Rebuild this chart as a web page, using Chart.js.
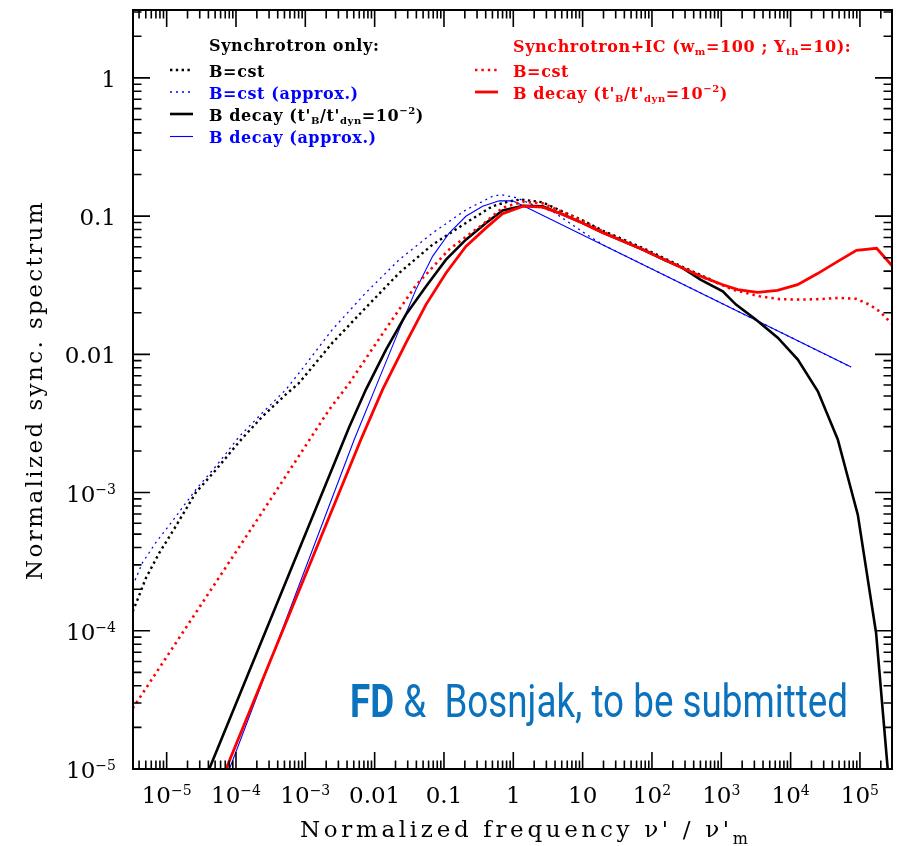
<!DOCTYPE html>
<html>
<head>
<meta charset="utf-8">
<script src="https://cdn.jsdelivr.net/npm/chart.js@4.4.0/dist/chart.umd.min.js"></script>
<style>
  html, body { margin: 0; padding: 0; background: #fff; }
  canvas { display: block; }
</style>
</head>
<body>
<canvas id="spec" width="899" height="846"></canvas>
<script>
// ===== Data (x = nu'/nu'_m, y = normalized spectrum) =====
// Synchrotron only, B = cst (black dotted)
const syncCstX = [3.24e-6, 3.80e-6, 5.01e-6, 7.76e-6, 1.35e-5, 2.63e-5, 5.13e-5, 1.12e-4, 2.40e-4, 5.25e-4, 8.13e-4, 2.45e-3, 7.41e-3, 2.26e-2, 6.85e-2, 0.207, 0.501, 0.871, 1.29, 2.63, 5.13, 10, 19.5, 38.0, 73.5, 143, 275, 537, 794];
const syncCstY = [1.38e-4, 1.68e-4, 2.40e-4, 3.63e-4, 5.69e-4, 1.00e-3, 1.46e-3, 2.34e-3, 3.55e-3, 5.13e-3, 6.21e-3, 1.21e-2, 2.17e-2, 3.88e-2, 6.22e-2, 8.93e-2, 0.118, 0.128, 0.132, 0.126, 0.108, 9.33e-2, 7.85e-2, 6.80e-2, 5.88e-2, 5.02e-2, 4.30e-2, 3.70e-2, 3.38e-2];

// Synchrotron only, B = cst, approximation (blue dotted)
const cstApproxX = [3.24e-6, 4.47e-6, 6.92e-6, 1.20e-5, 2.63e-5, 5.13e-5, 1.12e-4, 2.40e-4, 5.25e-4, 8.13e-4, 2.45e-3, 7.41e-3, 2.26e-2, 6.85e-2, 0.207, 0.501, 0.661, 1.10, 1.91, 3.72, 11.2, 20.0, 7.46e4];
const cstApproxY = [2.12e-4, 3.10e-4, 4.32e-4, 6.18e-4, 1.05e-3, 1.55e-3, 2.55e-3, 3.77e-3, 5.56e-3, 7.33e-3, 1.51e-2, 2.78e-2, 4.84e-2, 7.55e-2, 0.111, 0.139, 0.143, 0.136, 0.121, 0.108, 7.41e-2, 6.17e-2, 8.09e-3];

// Synchrotron only, B decay (black solid)
const decaySyncX = [3.16e-5, 4.27e-3, 7.48e-3, 1.46e-2, 2.83e-2, 5.50e-2, 0.107, 0.207, 0.404, 0.701, 1.39, 2.65, 5.15, 10, 19.5, 37.8, 73.5, 143, 275, 501, 1.05e3, 1.63e3, 3.18e3, 6.52e3, 1.27e4, 2.47e4, 4.79e4, 9.31e4, 1.71e5, 2.52e5, 2.82e5];
const decaySyncY = [7.24e-6, 2.96e-3, 5.56e-3, 1.08e-2, 1.94e-2, 3.10e-2, 4.84e-2, 6.76e-2, 8.93e-2, 0.110, 0.119, 0.118, 0.103, 8.91e-2, 7.59e-2, 6.61e-2, 5.73e-2, 4.90e-2, 4.22e-2, 3.47e-2, 2.86e-2, 2.29e-2, 1.78e-2, 1.32e-2, 9.16e-3, 5.40e-3, 2.42e-3, 6.92e-4, 9.64e-5, 9.89e-6, 5.13e-6];

// Synchrotron only, B decay, approximation (blue solid)
const decayApproxX = [6.31e-5, 5.08e-3, 1.05e-2, 2.26e-2, 3.94e-2, 6.85e-2, 0.119, 0.207, 0.361, 0.628, 0.977, 1.39, 7.46e4];
const decayApproxY = [7.24e-6, 2.42e-3, 5.89e-3, 1.51e-2, 2.94e-2, 5.12e-2, 7.55e-2, 9.98e-2, 0.118, 0.129, 0.129, 0.119, 8.09e-3];

// Synchrotron + IC, B = cst (red dotted)
const cstICX = [3.24e-6, 2.63e-5, 2.40e-4, 2.21e-3, 4.30e-3, 1.30e-2, 3.94e-2, 0.119, 0.361, 0.701, 1.36, 2.65, 5.15, 10, 19.5, 37.8, 73.5, 143, 275, 537, 1.05e3, 1.46e3, 3.55e3, 6.92e3, 1.34e4, 2.63e4, 5.01e4, 8.81e4, 1.37e5, 1.91e5, 2.67e5, 2.95e5];
const cstICY = [2.75e-5, 1.35e-4, 7.24e-4, 3.98e-3, 6.17e-3, 1.41e-2, 3.16e-2, 5.75e-2, 8.71e-2, 0.115, 0.127, 0.124, 0.107, 9.23e-2, 7.76e-2, 6.64e-2, 5.73e-2, 4.90e-2, 4.22e-2, 3.63e-2, 3.16e-2, 2.94e-2, 2.63e-2, 2.51e-2, 2.49e-2, 2.51e-2, 2.56e-2, 2.52e-2, 2.29e-2, 2.05e-2, 1.73e-2, 1.66e-2];

// Synchrotron + IC, B decay (red solid)
const decayICX = [5.62e-5, 6.34e-3, 1.30e-2, 2.83e-2, 5.50e-2, 0.107, 0.207, 0.404, 0.701, 1.39, 2.65, 5.15, 10, 19.5, 37.8, 73.5, 143, 275, 537, 1.05e3, 1.73e3, 3.35e3, 6.46e3, 1.26e4, 2.45e4, 4.79e4, 8.91e4, 1.74e5, 2.95e5];
const decayICY = [7.41e-6, 2.42e-3, 5.56e-3, 1.21e-2, 2.29e-2, 3.88e-2, 6.04e-2, 8.22e-2, 0.104, 0.118, 0.116, 0.103, 8.91e-2, 7.59e-2, 6.61e-2, 5.73e-2, 4.90e-2, 4.22e-2, 3.63e-2, 3.19e-2, 2.94e-2, 2.81e-2, 2.90e-2, 3.19e-2, 3.84e-2, 4.71e-2, 5.66e-2, 5.85e-2, 4.34e-2];

// ===== Tick labels =====
const xTickVals = [1e-5, 1e-4, 1e-3, 0.01, 0.1, 1, 10, 100, 1e3, 1e4, 1e5];
const xTickBase = ["10", "10", "10", "0.01", "0.1", "1", "10", "10", "10", "10", "10"];
const xTickExp = ["\u22125", "\u22124", "\u22123", "", "", "", "", "2", "3", "4", "5"];
const yTickVals = [1, 0.1, 0.01, 1e-3, 1e-4, 1e-5];
const yTickBase = ["1", "0.1", "0.01", "10", "10", "10"];
const yTickExp = ["", "", "", "\u22123", "\u22124", "\u22125"];

// ===== Styles =====
const BLACK = "#000000", BLUE = "#0000ff", RED = "#ff0000";
const styles = {
  syncCst:     { color: BLACK, width: 2.4, dash: [2.4, 3.4], order: 4 },
  cstApprox:   { color: BLUE,  width: 1.3, dash: [2, 4],     order: 5 },
  decaySync:   { color: BLACK, width: 2.6, dash: [],         order: 2 },
  decayApprox: { color: BLUE,  width: 1.1, dash: [],         order: 3 },
  cstIC:       { color: RED,   width: 2.6, dash: [2.4, 4],   order: 1 },
  decayIC:     { color: RED,   width: 2.8, dash: [],         order: 0 },
};

const SERIF = "'DejaVu Serif', serif";
const LEG = "bold 16px " + SERIF;
const LEG_SM = "bold 10px " + SERIF;

function pairs(xs, ys) {
  return xs.map((x, i) => ({ x, y: ys[i] }));
}

function series(key, xs, ys) {
  const s = styles[key];
  return {
    label: key,
    data: pairs(xs, ys),
    borderColor: s.color,
    borderWidth: s.width,
    borderDash: s.dash,
    order: s.order,
    pointRadius: 0,
    tension: 0,
    fill: false,
    clip: 0,
  };
}

function logTicks(min, max) {
  const out = [];
  for (let d = Math.floor(Math.log10(min)); d <= Math.ceil(Math.log10(max)); d++) {
    for (let m = 1; m <= 9; m++) {
      const v = Number(m + "e" + d);
      if (v >= min && v <= max) out.push({ v, major: m === 1 });
    }
  }
  return out;
}

// draw a run of text pieces (normal / sub / sup) one after the other
function richText(ctx, parts, x, y, align) {
  let w = 0;
  parts.forEach((p) => { ctx.font = p.font; p.w = ctx.measureText(p.t).width; w += p.w; });
  let cx = align === "center" ? x - w / 2 : align === "right" ? x - w : x;
  parts.forEach((p) => { ctx.font = p.font; ctx.fillText(p.t, cx, y + (p.dy || 0)); cx += p.w; });
}

const n = (t) => ({ t, font: LEG });
const sub = (t) => ({ t, font: LEG_SM, dy: 3 });
const sup = (t) => ({ t, font: LEG_SM, dy: -7 });
const decayText = () => [n("B decay (t'"), sub("B"), n("/t'"), sub("dyn"), n("=10"), sup("\u22122"), n(")")];

// ===== Legend entries =====
const legendLeft = [
  { y: 51, color: BLACK, parts: [n("Synchrotron only:")] },
  { y: 76.5, color: BLACK, key: "syncCst", parts: [n("B=cst")] },
  { y: 98.5, color: BLUE, key: "cstApprox", parts: [n("B=cst (approx.)")] },
  { y: 120.5, color: BLACK, key: "decaySync", parts: decayText() },
  { y: 143, color: BLUE, key: "decayApprox", parts: [n("B decay (approx.)")] },
];
const legendRight = [
  { y: 51.5, color: RED, parts: [n("Synchrotron+IC (w"), sub("m"), n("=100 ; Y"), sub("th"), n("=10):")] },
  { y: 76.5, color: RED, key: "cstIC", parts: [n("B=cst")] },
  { y: 98.5, color: RED, key: "decayIC", parts: decayText() },
];

function drawLegend(ctx, rows, textX, lineX0, lineX1) {
  rows.forEach((r) => {
    if (r.key) {
      const s = styles[r.key];
      ctx.save();
      ctx.strokeStyle = s.color;
      ctx.lineWidth = s.width;
      ctx.setLineDash(s.dash);
      ctx.beginPath();
      ctx.moveTo(lineX0, r.y - 6.5);
      ctx.lineTo(lineX1, r.y - 6.5);
      ctx.stroke();
      ctx.restore();
    }
    ctx.fillStyle = r.color;
    ctx.letterSpacing = "0.6px";
    richText(ctx, r.parts, textX, r.y, "left");
    ctx.letterSpacing = "0px";
  });
}

// ===== Frame, inward ticks, labels, titles, legend, note =====
const figureFrame = {
  id: "figureFrame",
  afterDatasetsDraw(chart) {
    const { ctx, chartArea: a, scales: { x, y } } = chart;
    ctx.save();
    ctx.textAlign = "left";
    ctx.textBaseline = "alphabetic";

    // ticks on all four sides
    ctx.strokeStyle = "#000";
    ctx.lineWidth = 1.6;
    ctx.beginPath();
    logTicks(x.min, x.max).forEach((t) => {
      const p = x.getPixelForValue(t.v);
      const len = t.major ? 17 : 8.5;
      ctx.moveTo(p, a.bottom); ctx.lineTo(p, a.bottom - len);
      ctx.moveTo(p, a.top); ctx.lineTo(p, a.top + len);
    });
    logTicks(y.min, y.max).forEach((t) => {
      const p = y.getPixelForValue(t.v);
      const len = t.major ? 17 : 8.5;
      ctx.moveTo(a.left, p); ctx.lineTo(a.left + len, p);
      ctx.moveTo(a.right, p); ctx.lineTo(a.right - len, p);
    });
    ctx.stroke();

    ctx.lineWidth = 2;
    ctx.strokeRect(a.left, a.top, a.right - a.left, a.bottom - a.top);

    // tick labels
    const big = "23px " + SERIF, small = "14px " + SERIF;
    ctx.fillStyle = "#000";
    xTickVals.forEach((v, i) => {
      const parts = [{ t: xTickBase[i], font: big }];
      if (xTickExp[i]) parts.push({ t: xTickExp[i], font: small, dy: -8 });
      richText(ctx, parts, x.getPixelForValue(v), 803, "center");
    });
    yTickVals.forEach((v, i) => {
      const parts = [{ t: yTickBase[i], font: big }];
      if (yTickExp[i]) parts.push({ t: yTickExp[i], font: small, dy: -8 });
      richText(ctx, parts, 116, y.getPixelForValue(v) + 9, "right");
    });

    // x title
    const xt = "Normalized frequency \u03bd' / \u03bd'";
    ctx.font = big;
    ctx.letterSpacing = "0px";
    const xw = ctx.measureText(xt).width;
    ctx.font = "16px " + SERIF;
    const mw = ctx.measureText("m").width;
    ctx.font = big;
    const xs = (448 - mw - xw) / xt.length;
    ctx.letterSpacing = xs + "px";
    ctx.fillText(xt, 300, 837);
    const xEnd = 300 + ctx.measureText(xt).width;
    ctx.letterSpacing = "0px";
    ctx.font = "16px " + SERIF;
    ctx.fillText("m", xEnd, 844);

    // y title
    const yt = "Normalized sync. spectrum";
    ctx.font = big;
    const yw = ctx.measureText(yt).width;
    ctx.letterSpacing = (380 - yw) / yt.length + "px";
    ctx.save();
    ctx.translate(42, 390);
    ctx.rotate(-Math.PI / 2);
    ctx.textAlign = "center";
    ctx.fillText(yt, 0, 0);
    ctx.restore();
    ctx.letterSpacing = "0px";

    // legends
    drawLegend(ctx, legendLeft, 209, 170, 193);
    drawLegend(ctx, legendRight, 513, 475, 498);

    // note
    ctx.save();
    ctx.fillStyle = "#0b72bd";
    const f1 = "bold 46px Roboto", f2 = "46px Roboto";
    const rest = " &  Bosnjak, to be submitted";
    ctx.font = f1;
    const w1 = ctx.measureText("FD").width;
    ctx.font = f2;
    const w2 = ctx.measureText(rest).width;
    ctx.translate(350, 717);
    ctx.scale(498 / (w1 + w2), 1);
    ctx.font = f1;
    ctx.fillText("FD", 0, 0);
    ctx.font = f2;
    ctx.fillText(rest, w1, 0);
    ctx.restore();

    ctx.restore();
  },
};

new Chart(document.getElementById("spec").getContext("2d"), {
  type: "line",
  data: {
    datasets: [
      series("syncCst", syncCstX, syncCstY),
      series("cstApprox", cstApproxX, cstApproxY),
      series("decaySync", decaySyncX, decaySyncY),
      series("decayApprox", decayApproxX, decayApproxY),
      series("cstIC", cstICX, cstICY),
      series("decayIC", decayICX, decayICY),
    ],
  },
  options: {
    responsive: false,
    animation: false,
    layout: { padding: { left: 133, top: 10, right: 7, bottom: 77 } },
    plugins: { legend: { display: false }, tooltip: { enabled: false } },
    scales: {
      x: { type: "logarithmic", min: 3.27e-6, max: 2.9e5, display: false },
      y: { type: "logarithmic", min: 1e-5, max: 3.1, display: false },
    },
  },
  plugins: [figureFrame],
});
</script>
</body>
</html>
